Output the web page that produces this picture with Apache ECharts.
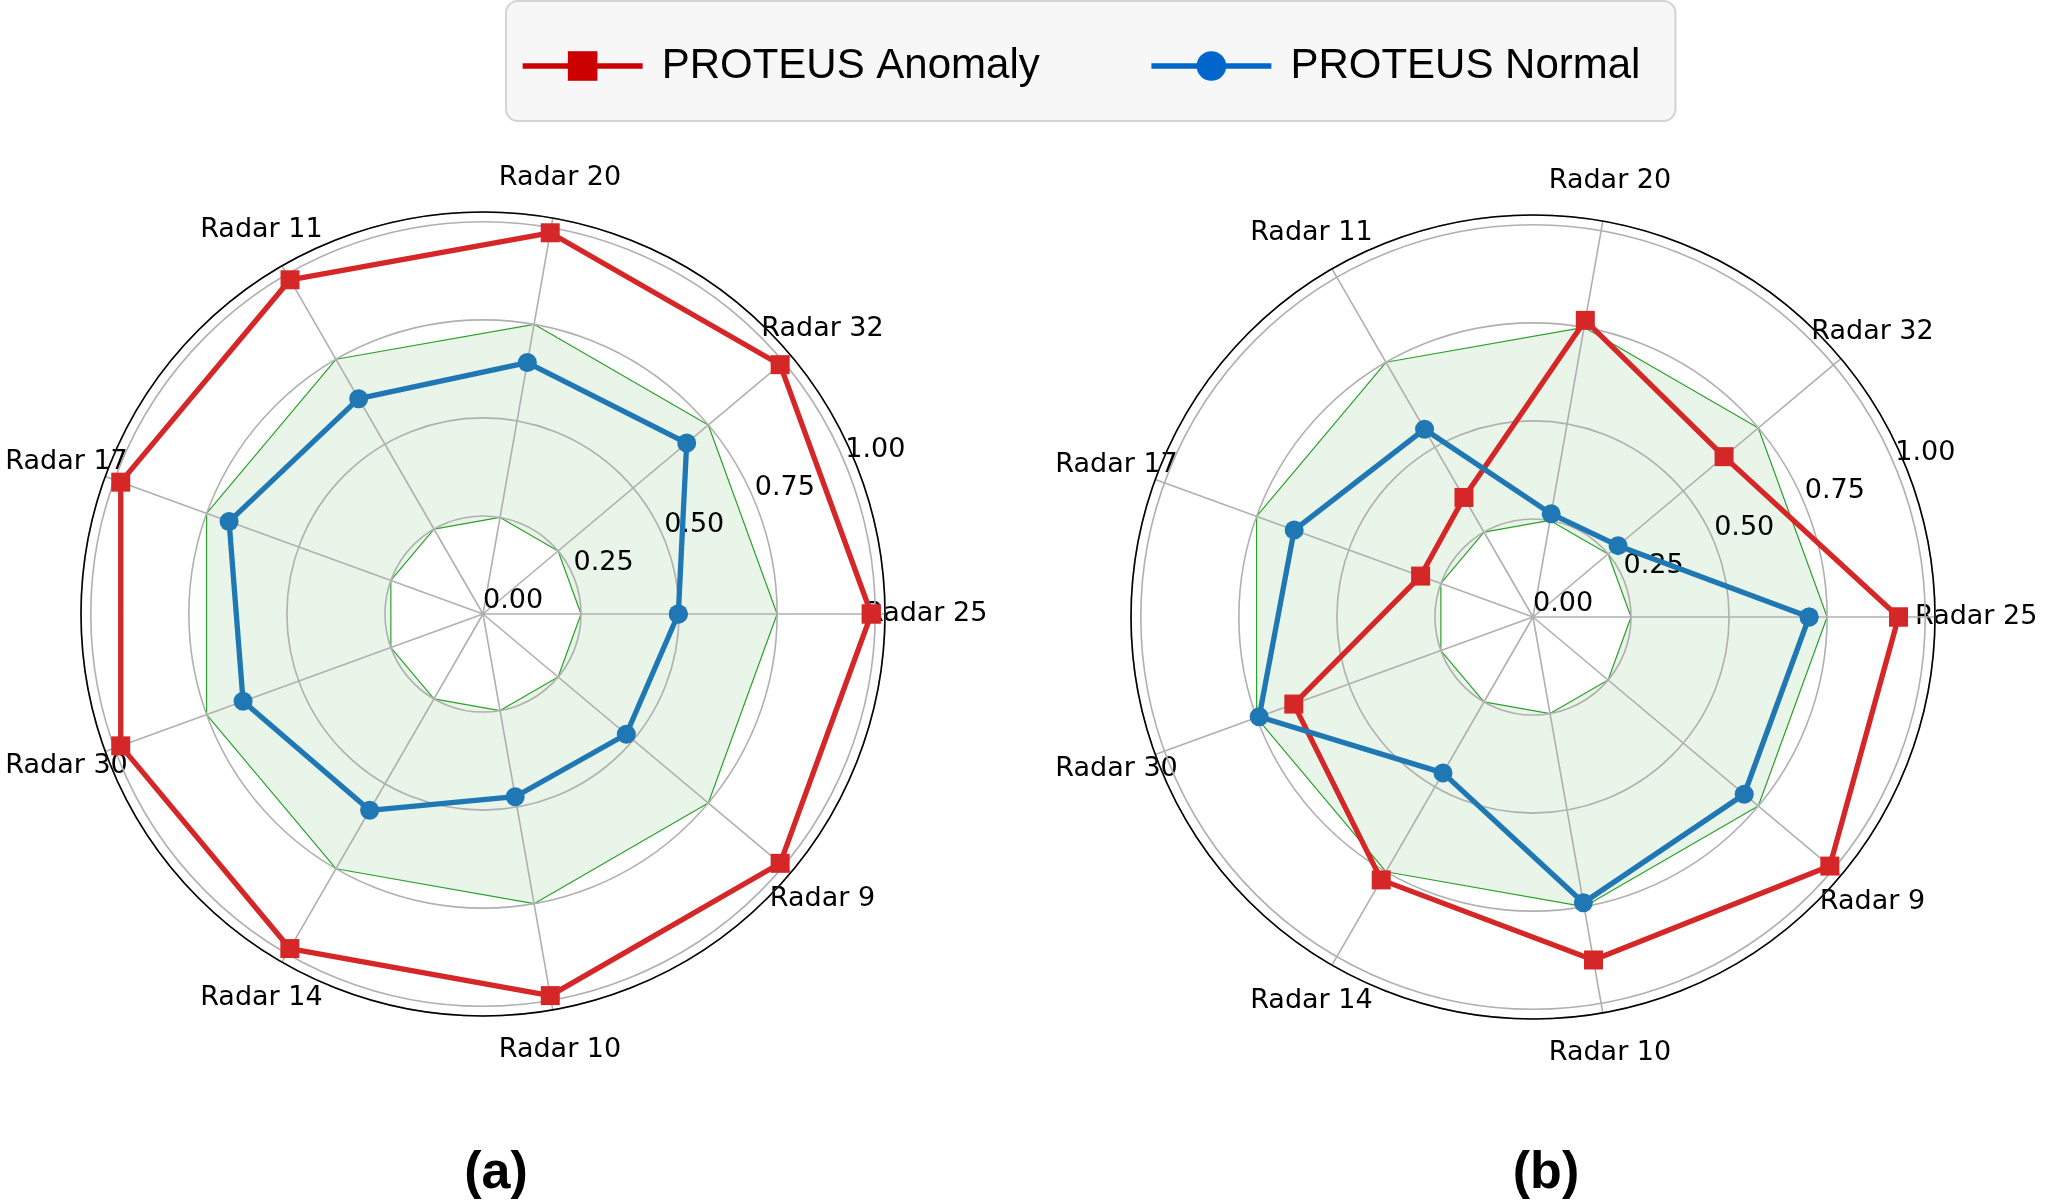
<!DOCTYPE html>
<html>
<head>
<meta charset="utf-8">
<script src="https://cdn.jsdelivr.net/npm/echarts@6/dist/echarts.min.js"></script>
<style>
  html, body { margin: 0; padding: 0; background: #fff; }
  #chart { width: 2046px; height: 1203px; }
</style>
</head>
<body>
<div id="chart"></div>
<script>
// axes, counter-clockwise from 0 deg
const radars = ['Radar 25', 'Radar 32', 'Radar 20', 'Radar 11', 'Radar 17', 'Radar 30', 'Radar 14', 'Radar 10', 'Radar 9'];
const radiusTicks = ['0.00', '0.25', '0.50', '0.75', '1.00'];

// panel (a)
const anomalyA = [0.990, 0.989, 0.987, 0.984, 0.983, 0.983, 0.985, 0.988, 0.989];
const normalA  = [0.498, 0.678, 0.651, 0.634, 0.689, 0.651, 0.578, 0.473, 0.477];
// panel (b)
const anomalyB = [0.932, 0.636, 0.768, 0.352, 0.305, 0.649, 0.774, 0.888, 0.988];
const normalB  = [0.704, 0.283, 0.267, 0.553, 0.648, 0.743, 0.459, 0.740, 0.703];

// green normal band
const bandLow  = [0.25, 0.25, 0.25, 0.25, 0.25, 0.25, 0.25, 0.25, 0.25];
const bandHigh = [0.75, 0.75, 0.75, 0.75, 0.75, 0.75, 0.75, 0.75, 0.75];

const panelTitles = ['(a)', '(b)'];
const panels = [
  { anomaly: anomalyA, normal: normalA },
  { anomaly: anomalyB, normal: normalB }
];

const centers = [[483, 614], [1533, 617]];
const titleX = [496, 1546];
const R = 402;
const RMAX = 1.025;
const LABEL_R = 1.13;
const step = 360 / radars.length;
const angles = radars.map((_, i) => i * step);

const FONT = 'DejaVu Sans';

function closed(values) {
  const pts = values.map((v, i) => [v, angles[i]]);
  pts.push([values[0], 360]);
  return pts;
}

const polar = [];
const angleAxis = [];
const radiusAxis = [];
const series = [];

panels.forEach((p, k) => {
  const main = 2 * k, lab = 2 * k + 1;
  polar.push({ center: centers[k], radius: R });
  polar.push({ center: centers[k], radius: R });

  angleAxis.push({
    polarIndex: main, type: 'value', min: 0, max: 360, interval: step,
    startAngle: 0, clockwise: false, z: 4,
    axisLine: { lineStyle: { color: '#000', width: 1.6 } },
    axisTick: { show: false },
    axisLabel: { show: false },
    splitLine: { lineStyle: { color: '#b0b0b0', width: 1.6 } }
  });
  angleAxis.push({
    polarIndex: lab, type: 'value', min: 0, max: 360,
    startAngle: 22.5, clockwise: false, show: false
  });

  radiusAxis.push({
    polarIndex: main, type: 'value', min: 0, max: RMAX, interval: 0.25, z: 3,
    axisLine: { show: false }, axisTick: { show: false }, axisLabel: { show: false },
    splitLine: { lineStyle: { color: '#b0b0b0', width: 1.6 } }
  });
  radiusAxis.push({
    polarIndex: lab, type: 'value', min: 0, max: RMAX, interval: 0.25, z: 4,
    axisLine: { show: false }, axisTick: { show: false }, splitLine: { show: false },
    axisLabel: {
      show: true, margin: 0, align: 'left', verticalAlign: 'bottom',
      fontFamily: FONT, fontSize: 27, color: '#000',
      formatter: v => radiusTicks[Math.round(v / 0.25)] || ''
    }
  });

  series.push({
    name: 'band high', type: 'line', coordinateSystem: 'polar', polarIndex: main,
    data: closed(bandHigh), symbol: 'none', z: 1, silent: true, clip: false,
    lineStyle: { color: '#2ca02c', width: 1.2 },
    areaStyle: { color: 'rgba(44,160,44,0.1)', opacity: 1 }
  });
  series.push({
    name: 'band low', type: 'line', coordinateSystem: 'polar', polarIndex: main,
    data: closed(bandLow), symbol: 'none', z: 1, silent: true, clip: false,
    lineStyle: { color: '#2ca02c', width: 1.2 },
    areaStyle: { color: '#ffffff', opacity: 1 }
  });
  series.push({
    name: 'names', type: 'scatter', coordinateSystem: 'polar', polarIndex: main,
    data: angles.map(a => [LABEL_R, a]), symbolSize: 1, z: 2, silent: true, clip: false,
    itemStyle: { color: 'rgba(0,0,0,0)', opacity: 1 },
    label: {
      show: true, position: 'inside', color: '#000', opacity: 1,
      textBorderWidth: 0, textBorderColor: 'transparent',
      fontFamily: FONT, fontSize: 27,
      formatter: q => radars[q.dataIndex]
    }
  });
  series.push({
    name: 'PROTEUS Anomaly', type: 'line', coordinateSystem: 'polar', polarIndex: main,
    data: closed(p.anomaly), symbol: 'rect', symbolSize: 19, z: 5, clip: false,
    itemStyle: { color: '#d62728' },
    lineStyle: { color: '#d62728', width: 5.3 }
  });
  series.push({
    name: 'PROTEUS Normal', type: 'line', coordinateSystem: 'polar', polarIndex: main,
    data: closed(p.normal), symbol: 'circle', symbolSize: 19, z: 5, clip: false,
    itemStyle: { color: '#1f77b4' },
    lineStyle: { color: '#1f77b4', width: 5.3 }
  });
});

const chart = echarts.init(document.getElementById('chart'));
chart.setOption({
  animation: false,
  backgroundColor: '#fff',
  title: panelTitles.map((t, k) => ({
    text: t, left: titleX[k], top: 1148, textAlign: 'center', padding: 0,
    textStyle: { fontFamily: 'Liberation Sans', fontWeight: 'bold', fontSize: 52, color: '#000' }
  })),
  legend: {
    left: 506, top: 1,
    data: [
      { name: 'PROTEUS Anomaly', itemStyle: { color: '#cc0000' }, lineStyle: { color: '#cc0000', width: 5.3 } },
      { name: 'PROTEUS Normal', itemStyle: { color: '#0066cc' }, lineStyle: { color: '#0066cc', width: 5.3 } }
    ],
    itemWidth: 120, itemHeight: 37, itemGap: 109,
    padding: [44, 35, 34, 14],
    backgroundColor: '#f7f7f7', borderColor: '#d4d4d4', borderWidth: 2, borderRadius: 12,
    selectedMode: false,
    textStyle: { fontFamily: 'Liberation Sans', fontSize: 42, color: '#000', padding: [0, 0, 0, 14] }
  },
  polar, angleAxis, radiusAxis, series
});
</script>
</body>
</html>
